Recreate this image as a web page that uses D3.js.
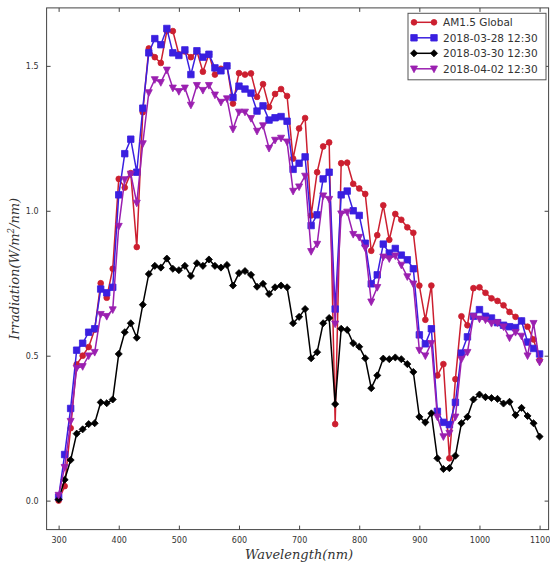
<!DOCTYPE html>
<html>
<head>
<meta charset="utf-8">
<script src="https://cdn.jsdelivr.net/npm/d3@7"></script>
<style>
  body { margin: 0; background: #fff; }
  svg { display: block; }
</style>
</head>
<body>
<svg id="chart" width="550" height="563"></svg>
<script>
// ------------------------------- DATA below ----------------------------------------------

// wavelength, every 10 nm from 300 to 1100
const wavelengths = [
  300, 310, 320, 330, 340, 350, 360, 370, 380, 390,
  400, 410, 420, 430, 440, 450, 460, 470, 480, 490,
  500, 510, 520, 530, 540, 550, 560, 570, 580, 590,
  600, 610, 620, 630, 640, 650, 660, 670, 680, 690,
  700, 710, 720, 730, 740, 750, 760, 770, 780, 790,
  800, 810, 820, 830, 840, 850, 860, 870, 880, 890,
  900, 910, 920, 930, 940, 950, 960, 970, 980, 990,
  1000, 1010, 1020, 1030, 1040, 1050, 1060, 1070, 1080, 1090, 1100
];

const am15Global = [
  0.0, 0.05, 0.25, 0.47, 0.50, 0.53, 0.59, 0.75, 0.70, 0.80,
  1.11, 1.08, 1.13, 0.875, 1.34, 1.56, 1.53, 1.51, 1.62, 1.62,
  1.54, 1.55, 1.53, 1.55, 1.48, 1.54, 1.47, 1.49, 1.50, 1.37,
  1.475, 1.47, 1.474, 1.393, 1.437, 1.358, 1.403, 1.42, 1.396, 1.18,
  1.284, 1.32, 0.984, 1.133, 1.222, 1.236, 0.264, 1.164, 1.166, 1.093,
  1.077, 1.058, 0.862, 0.916, 1.019, 0.90, 0.989, 0.969, 0.943, 0.924,
  0.742, 0.624, 0.742, 0.432, 0.471, 0.146, 0.419, 0.636, 0.605, 0.733,
  0.736, 0.717, 0.698, 0.689, 0.674, 0.651, 0.634, 0.62, 0.60, 0.556, 0.485
];

const day0328 = [
  0.012, 0.159, 0.318, 0.519, 0.543, 0.581, 0.593, 0.73, 0.717, 0.736,
  1.055, 1.197, 1.247, 1.133, 1.354, 1.545, 1.594, 1.573, 1.629, 1.545,
  1.536, 1.555, 1.47, 1.552, 1.53, 1.54, 1.493, 1.483, 1.50, 1.391,
  1.43, 1.42, 1.406, 1.344, 1.362, 1.313, 1.321, 1.325, 1.309, 1.143,
  1.164, 1.186, 0.949, 0.986, 1.11, 1.133, 0.661, 1.055, 1.068, 1.0,
  0.984, 0.888, 0.748, 0.779, 0.885, 0.854, 0.87, 0.847, 0.831, 0.80,
  0.572, 0.541, 0.593, 0.308, 0.27, 0.262, 0.339, 0.509, 0.565, 0.636,
  0.659, 0.636, 0.63, 0.614, 0.605, 0.60, 0.597, 0.62, 0.547, 0.525, 0.506
];

const day0330 = [
  0.004, 0.072, 0.14, 0.231, 0.246, 0.264, 0.267, 0.339, 0.336, 0.349,
  0.506, 0.581, 0.612, 0.562, 0.676, 0.782, 0.81, 0.804, 0.835, 0.80,
  0.795, 0.81, 0.775, 0.819, 0.81, 0.832, 0.81, 0.804, 0.813, 0.742,
  0.785, 0.792, 0.779, 0.738, 0.748, 0.713, 0.736, 0.742, 0.736, 0.612,
  0.634, 0.661, 0.491, 0.512, 0.612, 0.63, 0.333, 0.593, 0.589, 0.543,
  0.531, 0.491, 0.388, 0.432, 0.49, 0.488, 0.494, 0.488, 0.471, 0.444,
  0.289, 0.27, 0.301, 0.146, 0.109, 0.112, 0.155, 0.267, 0.289, 0.349,
  0.366, 0.357, 0.354, 0.351, 0.335, 0.341, 0.295, 0.32, 0.292, 0.267, 0.221
];

const day0402 = [
  0.019, 0.115, 0.274, 0.457, 0.463, 0.50, 0.512, 0.643, 0.636, 0.659,
  0.947, 1.108, 1.127, 1.027, 1.232, 1.408, 1.453, 1.443, 1.486, 1.424,
  1.412, 1.424, 1.365, 1.433, 1.416, 1.433, 1.40, 1.375, 1.387, 1.282,
  1.341, 1.341, 1.319, 1.275, 1.294, 1.216, 1.244, 1.251, 1.238, 1.068,
  1.083, 1.12, 0.86, 0.885, 1.052, 1.04, 0.61, 0.99, 0.996, 0.919,
  0.909, 0.872, 0.686, 0.736, 0.841, 0.835, 0.845, 0.813, 0.773, 0.748,
  0.519, 0.50, 0.543, 0.289, 0.221, 0.233, 0.289, 0.488, 0.512, 0.636,
  0.627, 0.624, 0.612, 0.614, 0.60, 0.562, 0.581, 0.568, 0.50, 0.612, 0.478
];

const seriesNames = ['AM1.5 Global', '2018-03-28 12:30', '2018-03-30 12:30', '2018-04-02 12:30'];
const xTicks = [300, 400, 500, 600, 700, 800, 900, 1000, 1100];
const yTicks = [0.0, 0.5, 1.0, 1.5];

// ------------------------------- SETUP below ----------------------------------------------

const series = [
  { name: seriesNames[0], values: am15Global, color: '#cc1f30', symbol: d3.symbolCircle, size: 26 },
  { name: seriesNames[1], values: day0328, color: '#3a1fe0', symbol: d3.symbolSquare, size: 42 },
  { name: seriesNames[2], values: day0330, color: '#000000', symbol: d3.symbolDiamond2, size: 32 },
  { name: seriesNames[3], values: day0402, color: '#9a1fb0', symbol: 'tri', size: 32 }
];

const plotLeft = 46.6, plotRight = 548.6, plotTop = 7.9, plotBottom = 529.6;

const svg = d3.select('#chart');

const x = d3.scaleLinear().domain([280, 1115]).range([plotLeft, plotRight]);
const y = d3.scaleLinear().domain([-0.1, 1.7]).range([plotBottom, plotTop]);

// downward triangle (matplotlib 'v')
function markerPath(s, size) {
  if (s === 'tri') {
    const r = Math.sqrt(size) * 0.62;
    return `M${-r},${-r * 0.8}L${r},${-r * 0.8}L0,${r * 1.1}Z`;
  }
  return d3.symbol().type(s).size(size)();
}

// ------------------------------- LINES + MARKERS ----------------------------------------------

const plot = svg.append('g');

const line = d3.line()
  .x((d, i) => x(wavelengths[i]))
  .y((d) => y(d));

series.forEach((s) => {
  const g = plot.append('g');
  g.append('path')
    .attr('d', line(s.values))
    .attr('fill', 'none')
    .attr('stroke', s.color)
    .attr('stroke-width', 1.5);

  g.selectAll('path.mk')
    .data(s.values)
    .join('path')
    .attr('class', 'mk')
    .attr('d', markerPath(s.symbol, s.size))
    .attr('transform', (d, i) => `translate(${x(wavelengths[i])},${y(d)})`)
    .attr('fill', s.color)
    .attr('stroke', s.color)
    .attr('stroke-width', 0.8);
});

// ------------------------------- AXES ----------------------------------------------

const axisColor = '#444';

// ticks point inward on all four sides, like matplotlib classic
const xAxisB = d3.axisBottom(x).tickValues(xTicks).tickSize(-4).tickPadding(8).tickFormat(d3.format('d'));
const xAxisT = d3.axisTop(x).tickValues(xTicks).tickSize(-4).tickFormat('');
const yAxisL = d3.axisLeft(y).tickValues(yTicks).tickSize(-4).tickPadding(8).tickFormat(d3.format('.1f'));
const yAxisR = d3.axisRight(y).tickValues(yTicks).tickSize(-4).tickFormat('');

svg.append('g').attr('transform', `translate(0,${plotBottom})`).call(xAxisB);
svg.append('g').attr('transform', `translate(0,${plotTop})`).call(xAxisT);
svg.append('g').attr('transform', `translate(${plotLeft},0)`).call(yAxisL);
svg.append('g').attr('transform', `translate(${plotRight},0)`).call(yAxisR);

svg.selectAll('.domain').remove();
svg.selectAll('.tick line').attr('stroke', axisColor);
svg.selectAll('.tick text')
  .attr('fill', '#333')
  .style('font-family', 'DejaVu Sans, sans-serif')
  .style('font-size', '8px');

// frame
svg.append('rect')
  .attr('x', plotLeft)
  .attr('y', plotTop)
  .attr('width', plotRight - plotLeft)
  .attr('height', plotBottom - plotTop)
  .attr('fill', 'none')
  .attr('stroke', axisColor)
  .attr('stroke-width', 1);

// axis labels
svg.append('text')
  .attr('x', (x(300) + x(1100)) / 2)
  .attr('y', 559)
  .attr('text-anchor', 'middle')
  .style('font-family', 'DejaVu Serif, serif')
  .style('font-style', 'italic')
  .style('font-size', '13px')
  .attr('fill', '#333')
  .text('Wavelength(nm)');

const yLab = svg.append('text')
  .attr('transform', `translate(19,${y(0.8)}) rotate(-90)`)
  .attr('text-anchor', 'middle')
  .style('font-family', 'DejaVu Serif, serif')
  .style('font-style', 'italic')
  .style('font-size', '13px')
  .attr('fill', '#333');
yLab.append('tspan').text('Irradiation(W/m');
yLab.append('tspan').attr('dy', -5).style('font-size', '8.5px').text('2');
yLab.append('tspan').attr('dy', 5).text('/nm)');

// ------------------------------- LEGEND ----------------------------------------------

const legend = svg.append('g').attr('transform', 'translate(408,13.3)');

legend.append('rect')
  .attr('width', 138)
  .attr('height', 66.5)
  .attr('fill', '#fff')
  .attr('stroke', '#555')
  .attr('stroke-width', 1);

series.forEach((s, i) => {
  const row = legend.append('g').attr('transform', `translate(0,${9 + i * 15.5})`);
  row.append('line')
    .attr('x1', 6).attr('x2', 26)
    .attr('stroke', s.color)
    .attr('stroke-width', 1.5);
  [6, 26].forEach((mx) => {
    row.append('path')
      .attr('d', markerPath(s.symbol, s.size))
      .attr('transform', `translate(${mx},0)`)
      .attr('fill', s.color)
      .attr('stroke', s.color)
      .attr('stroke-width', 0.8);
  });
  row.append('text')
    .attr('x', 35)
    .attr('y', 4)
    .style('font-family', 'DejaVu Sans, sans-serif')
    .style('font-size', '10.5px')
    .attr('fill', '#333')
    .text(s.name);
});
</script>
</body>
</html>
